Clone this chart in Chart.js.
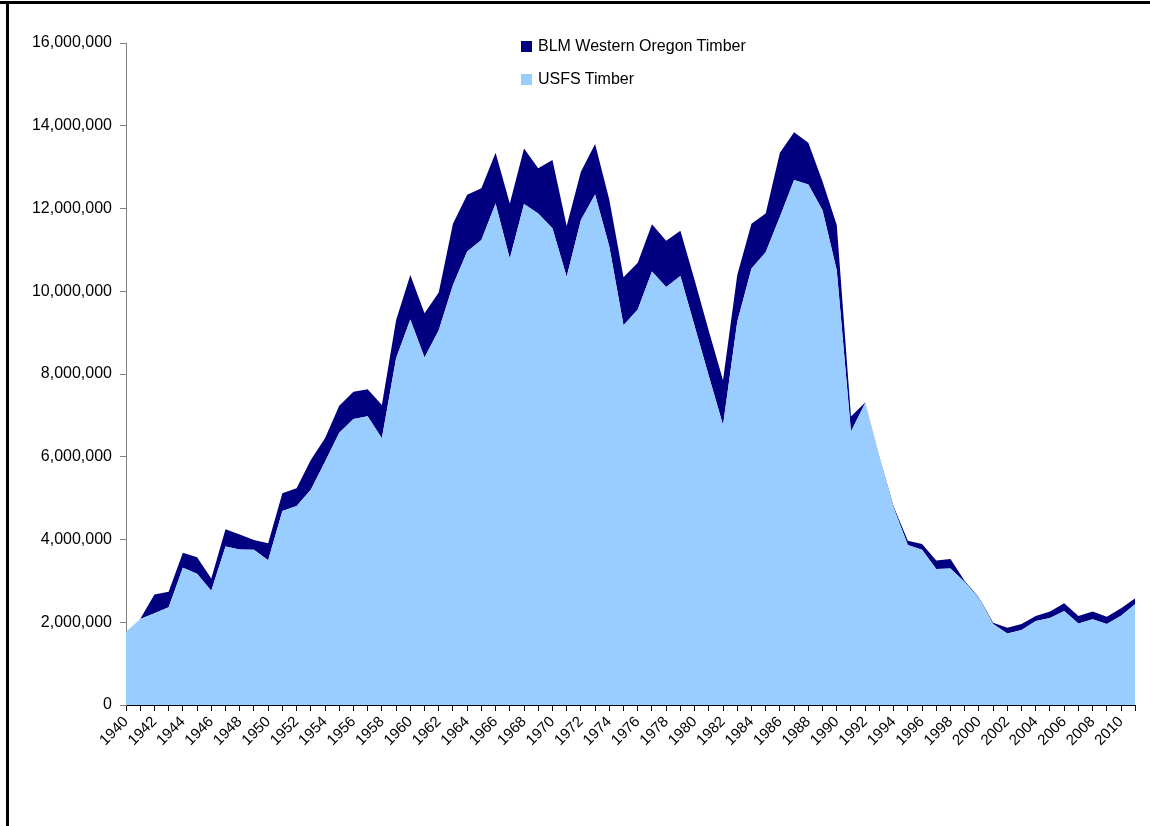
<!DOCTYPE html>
<html>
<head>
<meta charset="utf-8">
<script src="https://cdn.jsdelivr.net/npm/chart.js@4"></script>
<style>
  body { margin: 0; background: #fff; font-family: "Liberation Sans", Arial, sans-serif; }
  #wrap { position: relative; width: 1150px; height: 826px; overflow: hidden; }
  #frame { position: absolute; left: 6px; top: 1px; width: 1150px; height: 900px;
           border-top: 3px solid #000; border-left: 3px solid #000; }
  #linhaTopo { position: absolute; left: 0; top: 1px; width: 10px; height: 3px; background: #000; }
  #grafico { position: absolute; left: 0; top: 0; }
  .legenda { position: absolute; left: 521px; font-size: 16px; color: #000; }
  .legenda span { display: inline-block; width: 11px; height: 11px; margin-right: 6px; vertical-align: -1px; }
</style>
</head>
<body>
<div id="wrap">
  <div id="frame"></div>
  <div id="linhaTopo"></div>
  <canvas id="grafico" width="1150" height="826"></canvas>
  <div class="legenda" style="top:37px"><span style="background:#000080"></span>BLM Western Oregon Timber</div>
  <div class="legenda" style="top:70px"><span style="background:#99CCFF"></span>USFS Timber</div>
</div>
<script>
// Anos (categorias)
const anos = [
    '1940','1941','1942','1943','1944','1945','1946','1947','1948','1949',
    '1950','1951','1952','1953','1954','1955','1956','1957','1958','1959',
    '1960','1961','1962','1963','1964','1965','1966','1967','1968','1969',
    '1970','1971','1972','1973','1974','1975','1976','1977','1978','1979',
    '1980','1981','1982','1983','1984','1985','1986','1987','1988','1989',
    '1990','1991','1992','1993','1994','1995','1996','1997','1998','1999',
    '2000','2001','2002','2003','2004','2005','2006','2007','2008','2009',
    '2010','2011'
];

// USFS Timber (camada de baixo)
const usfs = [
    1770000, 2080000, 2220000, 2360000, 3320000, 3170000, 2760000, 3830000, 3760000, 3750000,
    3500000, 4690000, 4810000, 5200000, 5880000, 6580000, 6910000, 6980000, 6450000, 8380000,
    9320000, 8400000, 9060000, 10150000, 10960000, 11240000, 12120000, 10790000, 12110000, 11880000,
    11520000, 10350000, 11720000, 12340000, 11080000, 9180000, 9560000, 10480000, 10100000, 10370000,
    9160000, 7950000, 6770000, 9260000, 10550000, 10940000, 11800000, 12690000, 12580000, 11960000,
    10510000, 6610000, 7300000, 5980000, 4770000, 3870000, 3750000, 3290000, 3300000, 2970000,
    2580000, 1960000, 1730000, 1810000, 2030000, 2100000, 2270000, 1970000, 2070000, 1960000,
    2160000, 2440000
];

// BLM Western Oregon Timber (empilhado em cima)
const blm = [
    0, 0, 450000, 380000, 360000, 400000, 300000, 420000, 360000, 240000,
    410000, 430000, 430000, 720000, 570000, 650000, 660000, 650000, 800000, 920000,
    1070000, 1070000, 910000, 1480000, 1370000, 1250000, 1230000, 1330000, 1340000, 1090000,
    1650000, 1230000, 1170000, 1220000, 1130000, 1160000, 1130000, 1140000, 1120000, 1090000,
    1110000, 1090000, 1080000, 1130000, 1080000, 940000, 1550000, 1150000, 1010000, 690000,
    1090000, 360000, 10000, 20000, 30000, 100000, 140000, 200000, 230000, 30000,
    20000, 30000, 140000, 150000, 120000, 160000, 190000, 180000, 190000, 170000,
    180000, 140000
];

// Marcas do eixo Y
const marcasY = [0, 2000000, 4000000, 6000000, 8000000, 10000000, 12000000, 14000000, 16000000];

function formatarNumero(v) {
    return v.toLocaleString('en-US'); // 2,000,000
}

const ctx = document.getElementById('grafico').getContext('2d');
const grafico = new Chart(ctx, {
    type: 'line',
    data: {
        labels: anos,
        datasets: [{
            label: 'USFS Timber',
            data: usfs,
            backgroundColor: '#99CCFF',
            borderColor: '#99CCFF',
            borderWidth: 0,
            pointRadius: 0,
            fill: 'origin'
        }, {
            label: 'BLM Western Oregon Timber',
            data: blm,
            backgroundColor: '#000080',
            borderColor: '#000080',
            borderWidth: 0,
            pointRadius: 0,
            fill: '-1'
        }]
    },
    options: {
        responsive: false,
        animation: false,
        layout: { padding: { top: 43, right: 14, left: 0, bottom: 0 } },
        plugins: {
            legend: { display: false },
            tooltip: { enabled: false }
        },
        elements: { line: { tension: 0 } },
        scales: {
            x: {
                offset: false,
                afterFit: function(scale) { scale.height = 121; },
                border: { color: '#000', width: 1 },
                grid: { drawOnChartArea: false, drawTicks: true, tickLength: 6, color: '#000' },
                ticks: {
                    autoSkip: false,
                    minRotation: 45,
                    maxRotation: 45,
                    color: '#000',
                    padding: 2,
                    font: { family: '"Liberation Sans", Arial, sans-serif', size: 15 },
                    callback: function(valor, indice) {
                        return indice % 2 === 0 ? anos[indice] : ''; // só anos pares
                    }
                }
            },
            y: {
                stacked: true,
                min: 0,
                max: 16000000,
                afterFit: function(scale) { scale.width = 126; },
                afterBuildTicks: function(scale) {
                    scale.ticks = marcasY.map(v => ({ value: v }));
                },
                border: { color: '#808080', width: 1 },
                grid: { drawOnChartArea: false, drawTicks: true, tickLength: 6, color: '#808080' },
                ticks: {
                    color: '#000',
                    padding: 8,
                    font: { family: '"Liberation Sans", Arial, sans-serif', size: 16 },
                    callback: function(valor) { return formatarNumero(valor); }
                }
            }
        }
    }
});
</script>
</body>
</html>
